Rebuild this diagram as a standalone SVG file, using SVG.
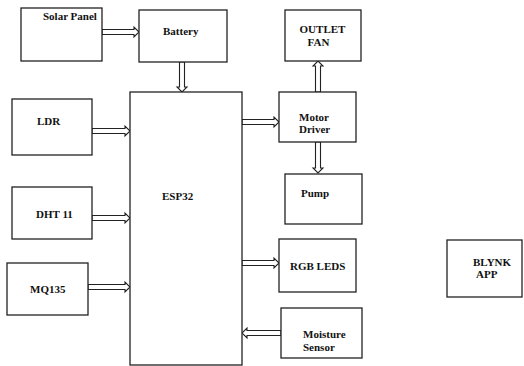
<svg xmlns="http://www.w3.org/2000/svg" width="524" height="366" viewBox="0 0 524 366">
<style>
.box{fill:#fff;stroke:#222;stroke-width:1.3}
.t{font-weight:bold;font-size:11px;fill:#111}
.ar{fill:#fff;stroke:#222;stroke-width:1.1;stroke-linejoin:miter}
</style>
<rect width="524" height="366" fill="#fff"/>
<g id="connectors">
<polygon class="ar" points="102,29.5 134,29.5 134,27 139,32 134,37 134,34.5 102,34.5"/>
<polygon class="ar" points="179.5,62 184.5,62 184.5,87 187,87 182,92 177,87 179.5,87"/>
<polygon class="ar" points="92,128.5 125,128.5 125,126 130,131 125,136 125,133.5 92,133.5"/>
<polygon class="ar" points="92,215.5 125,215.5 125,213 130,218 125,223 125,220.5 92,220.5"/>
<polygon class="ar" points="88,284.5 125,284.5 125,282 130,287 125,292 125,289.5 88,289.5"/>
<polygon class="ar" points="242,119.5 274,119.5 274,117 279,122 274,127 274,124.5 242,124.5"/>
<polygon class="ar" points="315.5,92 315.5,66 313,66 318,61 323,66 320.5,66 320.5,92"/>
<polygon class="ar" points="315.5,142 320.5,142 320.5,168 323,168 318,173 313,168 315.5,168"/>
<polygon class="ar" points="242,260.5 274,260.5 274,258 279,263 274,268 274,265.5 242,265.5"/>
<polygon class="ar" points="281,330.5 247,330.5 247,328 242,333 247,338 247,335.5 281,335.5"/>
</g>
<g font-family="Liberation Serif, Times New Roman, DejaVu Serif, serif">
<g id="solar"><rect class="box" x="21" y="8" width="81" height="53"/><text class="t" x="43" y="20" font-size="10.5">Solar Panel</text></g>
<g id="battery"><rect class="box" x="139" y="10" width="88" height="52"/><text class="t" x="163" y="35" font-size="10.5">Battery</text></g>
<g id="esp32"><rect class="box" x="130" y="92" width="112" height="273"/><text class="t" x="162" y="200" font-size="12">ESP32</text></g>
<g id="ldr"><rect class="box" x="12" y="99" width="80" height="56"/><text class="t" x="37" y="125">LDR</text></g>
<g id="dht11"><rect class="box" x="12" y="187" width="80" height="52"/><text class="t" x="36" y="218">DHT 11</text></g>
<g id="mq135"><rect class="box" x="7" y="263" width="81" height="52"/><text class="t" x="30" y="293">MQ135</text></g>
<g id="fan"><rect class="box" x="285" y="10" width="76" height="51"/><text class="t" x="322.5" y="33" text-anchor="middle">OUTLET</text><text class="t" x="318.5" y="46" text-anchor="middle">FAN</text></g>
<g id="motor"><rect class="box" x="279" y="92" width="77" height="50"/><text class="t" x="299" y="121">Motor</text><text class="t" x="299" y="133">Driver</text></g>
<g id="pump"><rect class="box" x="285" y="174" width="77" height="50"/><text class="t" x="301" y="197">Pump</text></g>
<g id="rgb"><rect class="box" x="279" y="239" width="77" height="53"/><text class="t" x="290" y="270">RGB LEDS</text></g>
<g id="moisture"><rect class="box" x="281" y="308" width="81" height="50"/><text class="t" x="303" y="338">Moisture</text><text class="t" x="303" y="351">Sensor</text></g>
<g id="blynk"><rect class="box" x="447" y="240" width="75" height="57"/><text class="t" x="473" y="266">BLYNK</text><text class="t" x="476" y="278">APP</text></g>
</g>
</svg>
